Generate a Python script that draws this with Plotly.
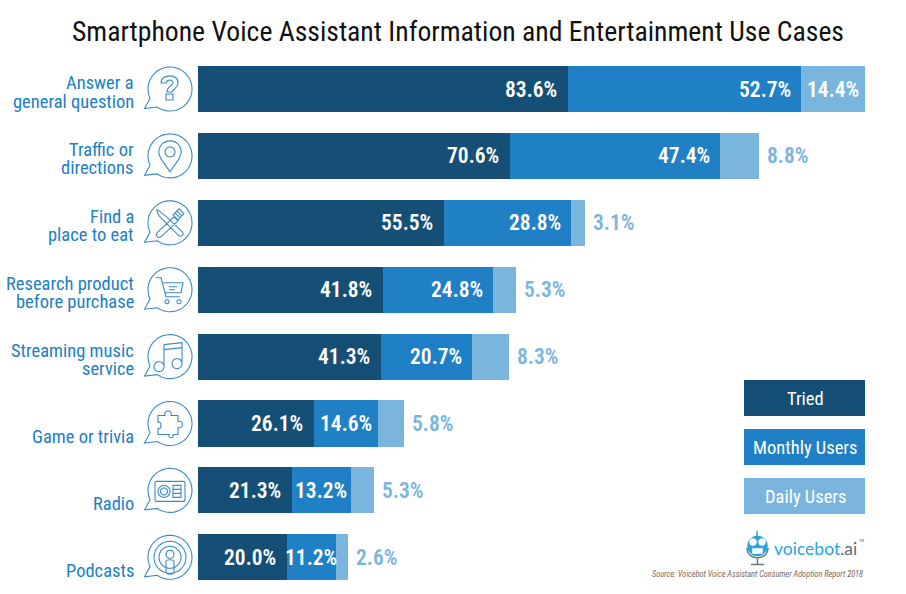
# voice assistant use cases, stacked horizontal bars

import re
import numpy as np
import plotly.graph_objects as go

W, H = 906, 594
FONT = "Roboto Condensed, Roboto, sans-serif"

DARK = "#164f75"
MID = "#2080c5"
LIGHT = "#7ab5de"
ICON = "#3a8acb"

title = "Smartphone Voice Assistant Information and Entertainment Use Cases"
source = "Source: Voicebot Voice Assistant Consumer Adoption Report 2018"

categories = ["Answer a general question", "Traffic or directions", "Find a place to eat",
              "Research product before purchase", "Streaming music service",
              "Game or trivia", "Radio", "Podcasts"]
label_lines = [["Answer a", "general question"], ["Traffic or", "directions"],
               ["Find a", "place to eat"], ["Research product", "before purchase"],
               ["Streaming music", "service"], ["Game or trivia"], ["Radio"], ["Podcasts"]]
tried = [83.6, 70.6, 55.5, 41.8, 41.3, 26.1, 21.3, 20.0]
monthly = [52.7, 47.4, 28.8, 24.8, 20.7, 14.6, 13.2, 11.2]
daily = [14.4, 8.8, 3.1, 5.3, 8.3, 5.8, 5.3, 2.6]
legend_names = ["Tried", "Monthly Users", "Daily Users"]

# pixel layout of the plot
x0, px_per_unit = 198, 4.426
y_first, y_step = 89, 66.9

fig = go.Figure()
for name, vals, col in zip(legend_names, [tried, monthly, daily], [DARK, MID, LIGHT]):
    fig.add_trace(go.Bar(y=categories, x=vals, name=name, orientation="h",
                         marker=dict(color=col, line_width=0), showlegend=False))

fig.update_layout(
    width=W, height=H, barmode="stack", bargap=0.312,
    margin=dict(l=0, r=0, t=0, b=0),
    paper_bgcolor="white", plot_bgcolor="white",
    font=dict(family=FONT),
    xaxis=dict(domain=[x0 / W, 1], range=[0, (W - x0) / px_per_unit], visible=False),
    yaxis=dict(domain=[0, 1], autorange=False, range=[(H - y_first) / y_step, -y_first / y_step],
               visible=False, categoryorder="array", categoryarray=categories),
)


def note(text, x, y, size, color, anchor="center", **kw):
    fig.add_annotation(text=text, x=x, y=y, showarrow=False, xanchor=anchor, yanchor="middle",
                       font=dict(size=size, color=color, family=kw.pop("family", FONT),
                                 weight=kw.pop("weight", 400)), **kw)


def page_note(text, px, py, size, color, anchor="center", **kw):
    note(text, px / W, 1 - py / H, size, color, anchor, xref="paper", yref="paper", **kw)


# --- value labels ---
VAL = dict(size=21.5, weight=600)
for cat, t, m, d in zip(categories, tried, monthly, daily):
    note(f"{t:.1f}%", t, cat, color="white", anchor="right", xshift=-9, **VAL)
    if m < 15:
        note(f"{m:.1f}%", t + m / 2, cat, color="white", **VAL)
    else:
        note(f"{m:.1f}%", t + m, cat, color="white", anchor="right", xshift=-8, **VAL)
    if d > 10:
        note(f"{d:.1f}%", t + m + d / 2, cat, color="white", **VAL)
    else:
        note(f"{d:.1f}%", t + m + d, cat, color=LIGHT, anchor="left", xshift=6, **VAL)

# --- category labels, set line by line to keep the tight leading ---
for cat, lines in zip(categories, label_lines):
    shifts = [6, -12.5] if len(lines) == 2 else [-13.5]
    for line, s in zip(lines, shifts):
        note(line, 136 / W, cat, 18.5, MID, "right", xref="paper", yshift=s)


# --- icons, drawn as paths in pixels around each bubble centre ---
def to_page(path, cx, cy):
    out, is_x = [], True
    for tok in re.findall(r"-?\d+\.?\d*|[A-Za-z]", path):
        if tok.isalpha():
            out.append(tok)
            is_x = True
        elif is_x:
            out.append(f"{(cx + float(tok)) / W:.5f}")
            is_x = False
        else:
            out.append(f"{1 - (cy + float(tok)) / H:.5f}")
            is_x = True
    return " ".join(out)


def circle(x, y, r):
    a = np.linspace(0, 2 * np.pi, 37)
    pts = [f"{x + r * np.cos(v):.2f},{y + r * np.sin(v):.2f}" for v in a]
    return "M" + " L".join(pts) + " Z "


def bubble():
    a = np.radians(np.linspace(155, 485, 70))
    pts = [f"L{22 * np.cos(v):.2f},{22 * np.sin(v):.2f}" for v in a]
    return "M-25.5,19.5 " + " ".join(pts) + " Z "


ICONS = [
    "M-9,-6 C-9,-16 9,-15 8,-6 C8,-1 3,0 2,3 L-3,3 C-3,-3 3,-3 3,-6 C3,-10 -3,-10 -4,-6 Z "
    "M-4,5 L3,5 L3,11 L-4,11 Z",
    "M0,16 L-9,3 C-15,-8 -7,-15 0,-15 C7,-15 15,-8 9,3 Z " + circle(0, -4, 5),
    "M-13,-13 C-8,-11 -1,-4 13,10 C14,13 11,14 9,13 L-6,-2 C-11,-6 -13,-9 -13,-13 Z "
    "M-13,10 L4,-6 L8,-2 L-9,14 C-12,16 -15,13 -13,10 Z M3,-8 L9,-14 L14,-9 L8,-3 Z "
    "M5,-10 L10,-5 M7,-12 L12,-7",
    "M-14,-12 L-9,-12 L-4,7 L10,7 M-7,-7 L13,-7 L11,3 L-4.5,3 M-1,-3 L7,-3 M-1,0 L5,0 "
    + circle(-3, 12, 2) + circle(9, 12, 2),
    "M-6,-12 L12,-14 L12,7 M-6,-12 L-6,10 M-6,-7 L12,-9 "
    + circle(-11, 10, 5) + circle(7, 7, 5),
    "M-12,-8 L-5,-8 C-7,-14 3,-14 1,-8 L8,-8 L8,-2 C14,-4 14,6 8,4 L8,11 L3,11 "
    "C5,15 -3,15 -1,11 L-12,11 L-12,5 C-8,7 -8,-3 -12,-1 Z",
    "M-14,-9 L14,-9 C15,-9 15,-8 15,-7 L15,9 C15,10 14,11 13,11 L-14,11 C-15,11 -15,10 -15,9 "
    "L-15,-7 C-15,-8 -15,-9 -14,-9 Z M3,-5 L11,-5 L11,7 L3,7 Z M3,-1 L11,-1 M3,3 L11,3 "
    + circle(-6, 1, 6) + circle(-6, 1, 3.5),
    circle(0, 0, 16) + circle(0, 0, 11) + circle(0, -3, 4)
    + "M-4,4 C-4,2 4,2 4,4 L4,14 C4,18 -4,18 -4,14 Z",
]

shapes = []
for i, icon in enumerate(ICONS):
    cy = y_first + i * y_step
    for p in (bubble(), icon):
        shapes.append(dict(type="path", xref="paper", yref="paper",
                           path=to_page(p, 170, cy), line=dict(color=ICON, width=1.1)))

# --- legend boxes ---
legend_tops = [380, 429, 478]
for name, col, top in zip(legend_names, [DARK, MID, LIGHT], legend_tops):
    shapes.append(dict(type="rect", xref="paper", yref="paper", x0=744 / W, x1=865 / W,
                       y0=1 - top / H, y1=1 - (top + 36) / H,
                       fillcolor=col, line_width=0))
    page_note(name, 805, top + 18.5, 18.5, "white")

# --- voicebot logo ---
BLUE = "#2aa5de"
GREY = "#6d7780"
logo = [
    (circle(757.5, 546, 9.5), BLUE, BLUE),
    ("M757,537 L757,531", None, BLUE),
    (circle(753, 542, 3), "white", "white"),
    (circle(762, 542, 3), "white", "white"),
    ("M753,549 L762,549 L762,553 L753,553 Z", "white", "white"),
    ("M747,548 C747,561 768,561 768,548 M757.5,557 L757.5,564 M751,564.5 L764,564.5", None, GREY),
]
for p, fill, line in logo:
    s = dict(type="path", xref="paper", yref="paper",
             path=to_page(p, 0, 0), line=dict(color=line, width=1.5))
    if fill:
        s["fillcolor"] = fill
    shapes.append(s)
fig.update_layout(shapes=shapes)

page_note('voicebot<span style="color:#5d6770">.ai</span>', 772, 548, 17.5, BLUE, "left", family="Lato, sans-serif")
page_note("TM", 861, 540, 4, GREY)

page_note(title, 458, 32, 27.7, "#111111")
page_note(source, 865, 574, 8.3, "#7b6a5c", "right")
fig.layout.annotations[-1].font.style = "italic"

fig.write_html("out.html", config=dict(displayModeBar=False),
               post_script="document.body.style.margin='0';")
